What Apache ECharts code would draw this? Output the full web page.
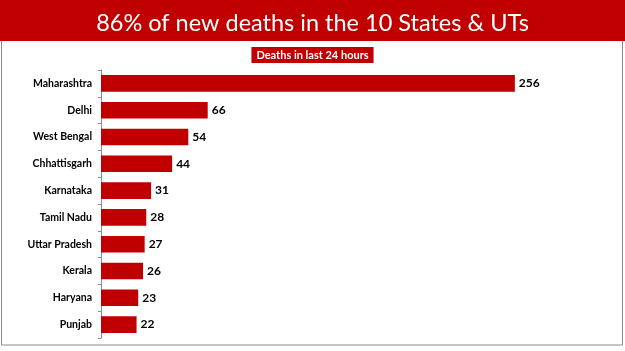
<!DOCTYPE html>
<html>
<head>
<meta charset="utf-8">
<script src="https://cdn.jsdelivr.net/npm/echarts@6/dist/echarts.min.js"></script>
<style>
  html, body { margin: 0; padding: 0; background: #fff; }
  #chart { width: 625px; height: 351px; }
</style>
</head>
<body>
<div id="chart"></div>
<script>
// data
const states = ['Maharashtra', 'Delhi', 'West Bengal', 'Chhattisgarh', 'Karnataka',
  'Tamil Nadu', 'Uttar Pradesh', 'Kerala', 'Haryana', 'Punjab']
const deaths = [256, 66, 54, 44, 31, 28, 27, 26, 23, 22]
const headline = '86% of new deaths in the 10 States & UTs'
const subtitle = 'Deaths in last 24 hours'

const chart = echarts.init(document.getElementById('chart'))
const red = '#C00000'

const option = {
  animation: false,
  backgroundColor: '#fff',
  graphic: [
    // grey frame
    {
      type: 'rect',
      shape: { x: 1.5, y: 40.5, width: 621, height: 304.5 },
      style: { fill: 'none', stroke: '#8c8c8c', lineWidth: 1 },
      z: 0
    },
    // red header banner
    {
      type: 'rect',
      shape: { x: 0, y: 0, width: 625, height: 41 },
      style: { fill: red },
      z: 1
    }
  ],
  title: [
    {
      text: headline,
      left: 'center',
      top: 6,
      textStyle: {
        color: '#fff',
        fontFamily: 'Lato',
        fontWeight: 'normal',
        fontSize: 23.5
      },
      z: 5
    },
    {
      text: subtitle,
      left: 'center',
      top: 47,
      padding: [2, 5, 2, 5],
      backgroundColor: red,
      textStyle: {
        color: '#fff',
        fontFamily: 'Lato',
        fontWeight: 'bold',
        fontSize: 11,
        lineHeight: 12
      }
    }
  ],
  grid: { left: 101, right: 39, top: 70, bottom: 13, containLabel: false },
  xAxis: {
    type: 'value',
    min: 0,
    max: 300,
    show: false
  },
  yAxis: {
    type: 'category',
    data: states,
    inverse: true,
    axisLine: { show: true, lineStyle: { color: '#8c8c8c', width: 1 } },
    axisTick: { show: true, length: 3, lineStyle: { color: '#8c8c8c' } },
    axisLabel: {
      color: '#000',
      fontFamily: 'Lato',
      fontWeight: 'bold',
      fontSize: 10.5,
      margin: 9
    }
  },
  series: [
    {
      type: 'bar',
      data: deaths,
      barCategoryGap: '38%',
      itemStyle: { color: red },
      label: {
        show: true,
        position: 'right',
        distance: 4,
        color: '#000',
        fontFamily: 'Lato',
        fontWeight: 'bold',
        fontSize: 12
      }
    }
  ]
}

chart.setOption(option)
</script>
</body>
</html>
